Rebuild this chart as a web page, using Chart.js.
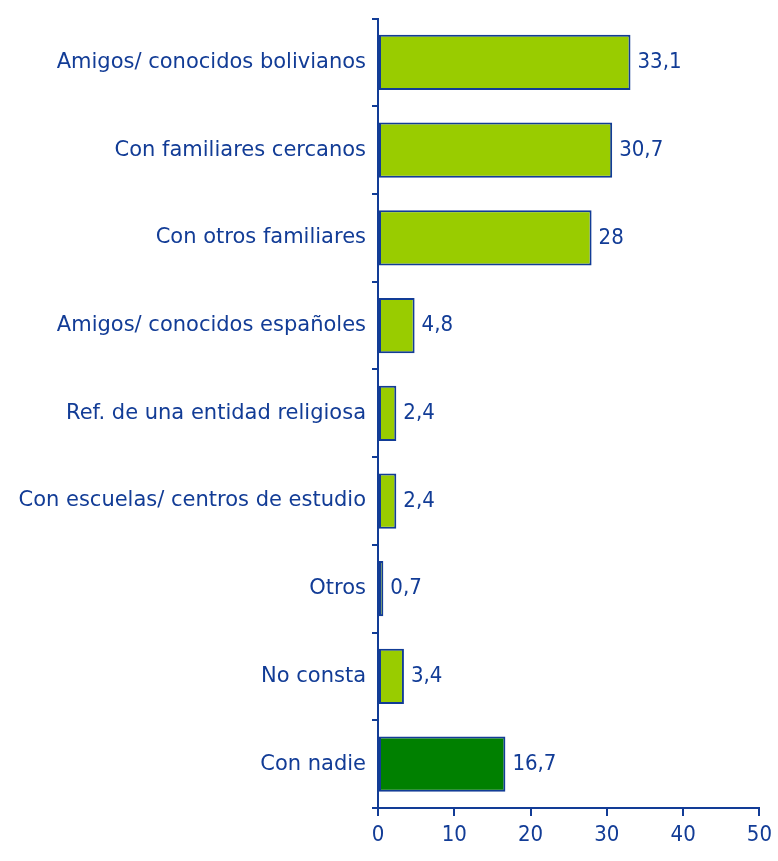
<!DOCTYPE html>
<html>
<head>
<meta charset="utf-8">
<script src="https://cdn.jsdelivr.net/npm/chart.js@4"></script>
<style>
  html, body { margin: 0; padding: 0; background: #fff; }
  #wrap { width: 778px; height: 861px; }
</style>
</head>
<body>
<div id="wrap"><canvas id="barChart"></canvas></div>
<script>
const categories = [
  'Amigos/ conocidos bolivianos',
  'Con familiares cercanos',
  'Con otros familiares',
  'Amigos/ conocidos españoles',
  'Ref. de una entidad religiosa',
  'Con escuelas/ centros de estudio',
  'Otros',
  'No consta',
  'Con nadie'
];
const values = [33.1, 30.7, 28, 4.8, 2.4, 2.4, 0.7, 3.4, 16.7];
const xTicks = [0, 10, 20, 30, 40, 50];

const blue = '#123c96';
const narrow = '"DejaVu Sans Condensed", sans-serif';
const barColors = values.map((v, i) => i === values.length - 1 ? '#008000' : '#99cc00');

const valueLabels = {
  id: 'valueLabels',
  afterDatasetsDraw(chart) {
    const ctx = chart.ctx;
    const meta = chart.getDatasetMeta(0);
    ctx.save();
    ctx.font = '22px ' + narrow;
    ctx.fillStyle = blue;
    ctx.textBaseline = 'middle';
    ctx.textAlign = 'left';
    meta.data.forEach((bar, i) => {
      const txt = String(values[i]).replace('.', ',');
      ctx.fillText(txt, bar.x + 7, bar.y);
    });
    ctx.restore();
  }
};

new Chart(document.getElementById('barChart').getContext('2d'), {
  type: 'bar',
  data: {
    labels: categories,
    datasets: [{
      data: values,
      backgroundColor: barColors,
      borderColor: blue,
      borderWidth: 2,
      borderSkipped: false,
      barPercentage: 0.7,
      categoryPercentage: 0.9
    }]
  },
  options: {
    indexAxis: 'y',
    responsive: true,
    maintainAspectRatio: false,
    animation: false,
    layout: { padding: { top: 10, right: 16, left: 0, bottom: 0 } },
    plugins: { legend: { display: false }, tooltip: { enabled: false } },
    scales: {
      x: {
        min: 0,
        max: 50,
        afterBuildTicks: (scale) => { scale.ticks = xTicks.map(v => ({ value: v })); },
        afterFit: (scale) => { scale.height = 53; },
        border: { color: blue, width: 2 },
        grid: { drawOnChartArea: false, color: blue, lineWidth: 2, tickLength: 8 },
        ticks: {
          color: blue,
          padding: 6,
          font: { family: narrow, size: 22 }
        }
      },
      y: {
        afterFit: (scale) => { scale.width = 378; },
        border: { color: blue, width: 2 },
        grid: { drawOnChartArea: false, color: blue, lineWidth: 2, tickLength: 6, offset: true },
        ticks: {
          color: blue,
          padding: 6,
          font: { family: '"DejaVu Sans", sans-serif', size: 21 }
        }
      }
    }
  },
  plugins: [valueLabels]
});
</script>
</body>
</html>
